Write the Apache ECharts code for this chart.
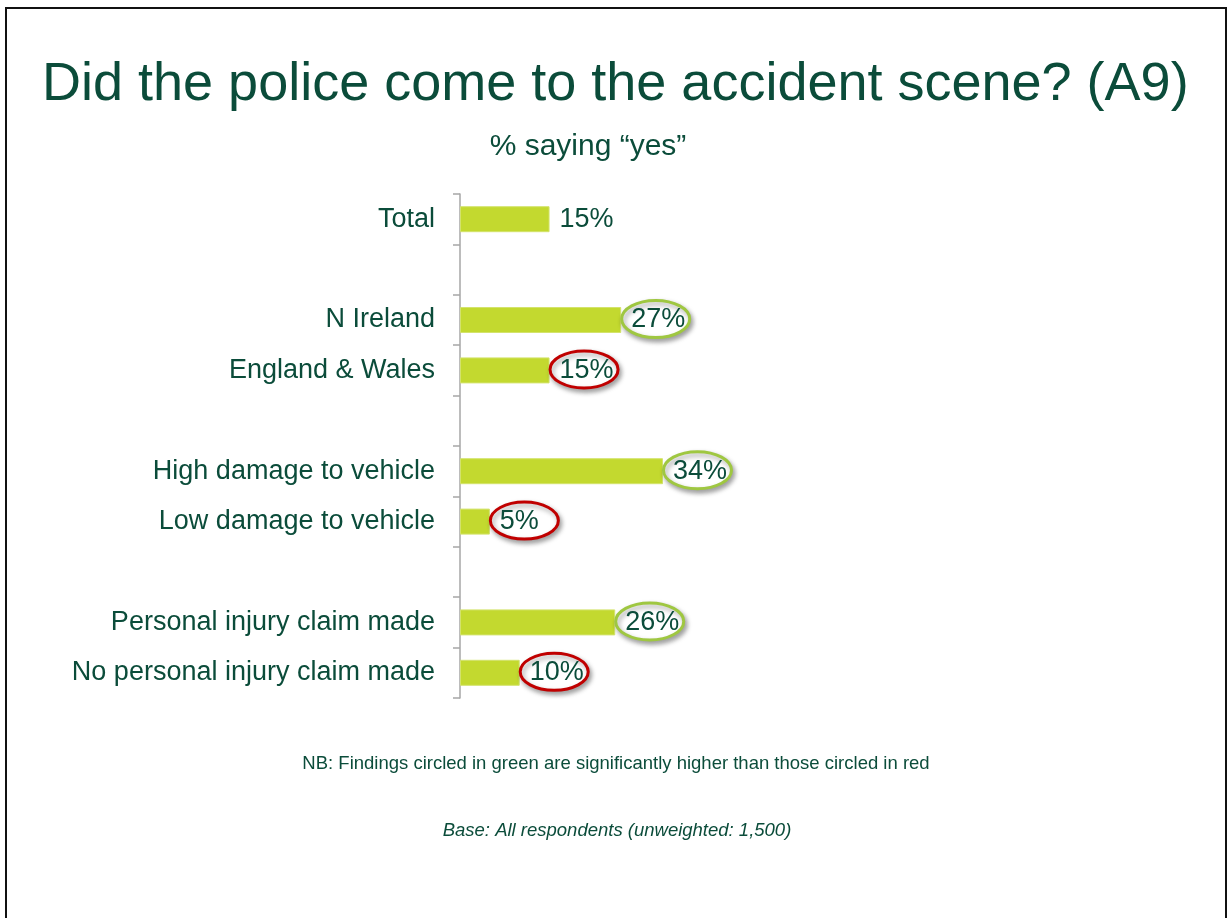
<!DOCTYPE html>
<html>
<head>
<meta charset="utf-8">
<title>Did the police come to the accident scene? (A9)</title>
<script src="https://cdn.jsdelivr.net/npm/echarts@6/dist/echarts.min.js"></script>
<style>
  html, body { margin: 0; padding: 0; background: #ffffff; }
  #chart { width: 1232px; height: 918px; }
</style>
</head>
<body>
<div id="chart"></div>
<script>
// Rows top to bottom; whitespace-only names are spacer rows between groups
const categories = [
  'Total',
  ' ',
  'N Ireland',
  'England & Wales',
  '  ',
  'High damage to vehicle',
  'Low damage to vehicle',
  '   ',
  'Personal injury claim made',
  'No personal injury claim made'
];
// % saying "yes"
const values = [15, null, 27, 15, null, 34, 5, null, 26, 10];
// Significance marker for each row: 'high' = green ring, 'low' = red ring
const significance = ['', '', 'high', 'low', '', 'high', 'low', '', 'high', 'low'];

const FONT = 'Arial, "Liberation Sans", Helvetica, sans-serif';
const TEXT = '#0b4c3a';
const BAR = '#c3d92f';
const RING_HIGH = '#9fc741';
const RING_LOW = '#c00000';

const labelData = [];
values.forEach(function (v, i) {
  if (v !== null) labelData.push([v, i, significance[i]]);
});

const chart = echarts.init(document.getElementById('chart'), null, { renderer: 'canvas' });

chart.setOption({
  animation: false,
  backgroundColor: '#ffffff',
  grid: { left: 460, top: 194, width: 597, height: 504, containLabel: false },
  xAxis: {
    type: 'value',
    min: 0,
    max: 100,
    show: false
  },
  yAxis: {
    type: 'category',
    data: categories,
    inverse: true,
    axisLine: { show: true, lineStyle: { color: '#a6a6a6', width: 1.5 } },
    axisTick: { show: true, length: 7, lineStyle: { color: '#a6a6a6', width: 1.5 } },
    axisLabel: {
      margin: 25,
      fontFamily: FONT,
      fontSize: 27,
      color: TEXT
    },
    splitLine: { show: false }
  },
  series: [
    {
      type: 'bar',
      data: values,
      barWidth: 26,
      itemStyle: { color: BAR, borderColor: '#d3e36c', borderWidth: 1 },
      z: 2
    },
    {
      type: 'custom',
      data: labelData,
      encode: { x: 0, y: 1 },
      z: 3,
      renderItem: function (params, api) {
        const v = api.value(0);
        const c = api.value(1);
        const flag = labelData[params.dataIndex][2];
        const end = api.coord([v, c]);
        const children = [];
        if (flag) {
          children.push({
            type: 'ellipse',
            shape: { cx: end[0] + 34.5, cy: end[1] - 1, rx: 34, ry: 18.5 },
            style: {
              fill: '#ffffff',
              stroke: flag === 'high' ? RING_HIGH : RING_LOW,
              lineWidth: 3,
              shadowBlur: 5,
              shadowOffsetX: 2,
              shadowOffsetY: 3,
              shadowColor: 'rgba(0,0,0,0.35)'
            }
          });
        }
        children.push({
          type: 'text',
          x: end[0] + 10,
          y: end[1],
          style: {
            text: v + '%',
            font: '27px ' + FONT,
            fill: TEXT,
            align: 'left',
            verticalAlign: 'middle'
          }
        });
        return { type: 'group', children: children };
      }
    }
  ],
  graphic: [
    {
      type: 'polyline',
      shape: { points: [[6, 918], [6, 8], [1226, 8], [1226, 918]] },
      style: { stroke: '#111111', lineWidth: 2, fill: null },
      silent: true
    },
    {
      type: 'text',
      x: 42,
      y: 85,
      style: {
        text: 'Did the police come to the accident scene? (A9)',
        font: '54px ' + FONT,
        fill: TEXT,
        align: 'left',
        verticalAlign: 'middle'
      }
    },
    {
      type: 'text',
      x: 588,
      y: 147,
      style: {
        text: '% saying \u201cyes\u201d',
        font: '30px ' + FONT,
        fill: TEXT,
        align: 'center',
        verticalAlign: 'middle'
      }
    },
    {
      type: 'text',
      x: 616,
      y: 764,
      style: {
        text: 'NB: Findings circled in green are significantly higher than those circled in red',
        font: '18.5px ' + FONT,
        fill: TEXT,
        align: 'center',
        verticalAlign: 'middle'
      }
    },
    {
      type: 'text',
      x: 617,
      y: 831,
      style: {
        text: 'Base: All respondents (unweighted: 1,500)',
        font: 'italic 18.5px ' + FONT,
        fill: TEXT,
        align: 'center',
        verticalAlign: 'middle'
      }
    }
  ]
});
</script>
</body>
</html>
